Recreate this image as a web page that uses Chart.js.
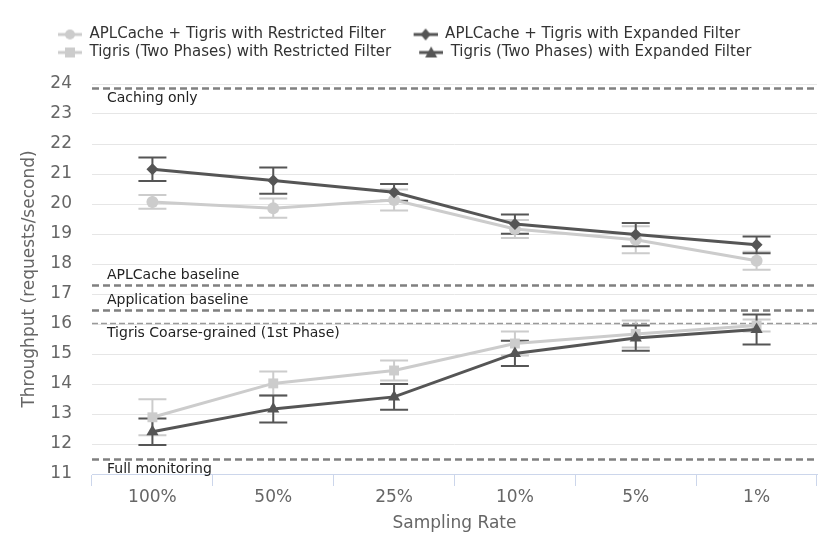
<!DOCTYPE html>
<html>
<head>
<meta charset="utf-8">
<script src="https://cdn.jsdelivr.net/npm/chart.js@4.4.0/dist/chart.umd.min.js"></script>
<style>
  html, body { margin: 0; padding: 0; background: #fff; }
  #wrap { width: 830px; height: 554px; }
</style>
</head>
<body>
<div id="wrap"><canvas id="myChart"></canvas></div>
<script>
const samplingRates = ["100%", "50%", "25%", "10%", "5%", "1%"];

const cacheRestricted = [20.07, 19.86, 20.13, 19.17, 18.81, 18.11];
const cacheRestrictedErr = [0.23, 0.32, 0.35, 0.3, 0.45, 0.3];
const cacheExpanded = [21.16, 20.78, 20.39, 19.33, 18.98, 18.64];
const cacheExpandedErr = [0.39, 0.44, 0.28, 0.32, 0.39, 0.28];
const twoPhaseRestricted = [12.89, 14.02, 14.45, 15.35, 15.67, 15.95];
const twoPhaseRestrictedErr = [0.6, 0.4, 0.33, 0.4, 0.45, 0.2];
const twoPhaseExpanded = [12.41, 13.17, 13.57, 15.02, 15.53, 15.82];
const twoPhaseExpandedErr = [0.44, 0.45, 0.43, 0.42, 0.42, 0.5];

// reference lines
const refNames = ["Caching only", "APLCache baseline", "Application baseline", "Tigris Coarse-grained (1st Phase)", "Full monitoring"];
const refValues = [23.87, 17.3, 16.47, 16.03, 11.5];

const light = "#cccccc";
const dark = "#555555";
Chart.defaults.font.family = "'DejaVu Sans', Verdana, sans-serif";

// little "line + marker" pictures for the legend
function legendIcon(color, style) {
  const c = document.createElement("canvas");
  c.width = 49; c.height = 14;
  const g = c.getContext("2d");
  g.strokeStyle = color; g.fillStyle = color; g.lineWidth = 3;
  g.beginPath(); g.moveTo(25, 7); g.lineTo(49, 7); g.stroke();
  const cx = 37, cy = 7;
  g.beginPath();
  if (style == "circle") g.arc(cx, cy, 5, 0, Math.PI * 2);
  if (style == "rectRot") { g.moveTo(cx, cy - 6); g.lineTo(cx + 5, cy); g.lineTo(cx, cy + 6); g.lineTo(cx - 5, cy); }
  if (style == "rect") g.rect(cx - 5, cy - 5, 10, 10);
  if (style == "triangle") { g.moveTo(cx, cy - 6); g.lineTo(cx + 6, cy + 5); g.lineTo(cx - 6, cy + 5); }
  g.closePath(); g.fill();
  return c;
}

const refLines = {
  id: "refLines",
  beforeDatasetsDraw(chart) {
    const ctx = chart.ctx, y = chart.scales.y, area = chart.chartArea;
    const above = [false, true, true, false, false];
    refValues.forEach((v, i) => {
      const py = Math.round(y.getPixelForValue(v)) + 0.5;
      ctx.save();
      const thin = i == 3;
      ctx.strokeStyle = thin ? "#9a9a9a" : "#808080";
      ctx.lineWidth = thin ? 1.5 : 2.5;
      ctx.setLineDash(thin ? [6, 3] : [7, 4]);
      ctx.beginPath(); ctx.moveTo(area.left, py); ctx.lineTo(area.right, py); ctx.stroke();
      ctx.setLineDash([]);
      ctx.fillStyle = "#222";
      ctx.font = "14px 'DejaVu Sans', Verdana, sans-serif";
      ctx.textBaseline = "middle";
      ctx.fillText(refNames[i], area.left + 15, py + (above[i] ? -10 : 10));
      ctx.restore();
    });
  }
};

const errorBars = {
  id: "errorBars",
  beforeDatasetsDraw(chart) {
    const ctx = chart.ctx, y = chart.scales.y;
    const idx = [0, 2, 1, 3];
    idx.forEach(i => {
      const ds = chart.data.datasets[i];
      const meta = chart.getDatasetMeta(i);
      meta.data.forEach((pt, j) => {
        const top = y.getPixelForValue(ds.data[j] + ds.errors[j]);
        const bot = y.getPixelForValue(ds.data[j] - ds.errors[j]);
        ctx.save();
        ctx.strokeStyle = ds.borderColor;
        ctx.lineWidth = 2;
        ctx.beginPath();
        ctx.moveTo(pt.x, top); ctx.lineTo(pt.x, bot);
        ctx.moveTo(pt.x - 14, top); ctx.lineTo(pt.x + 14, top);
        ctx.moveTo(pt.x - 14, bot); ctx.lineTo(pt.x + 14, bot);
        ctx.stroke();
        ctx.restore();
      });
    });
  }
};

const legendSpace = {
  id: "legendSpace",
  beforeInit(chart) {
    const fit = chart.legend.fit;
    chart.legend.fit = function () {
      fit.call(this);
      this.height = 60;
    };
  }
};

const icons = [
  legendIcon(light, "circle"),
  legendIcon(dark, "rectRot"),
  legendIcon(light, "rect"),
  legendIcon(dark, "triangle")
];

function series(label, data, errors, color, style, radius, order) {
  return {
    label: label,
    data: data,
    errors: errors,
    borderColor: color,
    backgroundColor: color,
    borderWidth: 3,
    pointStyle: style,
    pointRadius: radius,
    pointHoverRadius: radius,
    pointBorderWidth: 0,
    tension: 0,
    order: order
  };
}

let ctx = document.getElementById("myChart").getContext("2d");
let chart = new Chart(ctx, {
  type: "line",
  data: {
    labels: samplingRates,
    datasets: [
      series("APLCache + Tigris with Restricted Filter", cacheRestricted, cacheRestrictedErr, light, "circle", 6, 1),
      series("APLCache + Tigris with Expanded Filter", cacheExpanded, cacheExpandedErr, dark, "rectRot", 6, 0),
      series("Tigris (Two Phases) with Restricted Filter", twoPhaseRestricted, twoPhaseRestrictedErr, light, "rect", 7, 1),
      series("Tigris (Two Phases) with Expanded Filter", twoPhaseExpanded, twoPhaseExpandedErr, dark, "triangle", 7, 0)
    ]
  },
  options: {
    responsive: true,
    maintainAspectRatio: false,
    animation: false,
    layout: { padding: { top: 24, left: 30, right: 13, bottom: 0 } },
    plugins: {
      tooltip: { enabled: false },
      legend: {
        position: "top",
        align: "start",
        labels: {
          usePointStyle: true,
          pointStyleWidth: 49,
          boxHeight: 14,
          padding: 3,
          color: "#333",
          font: { size: 15 },
          generateLabels(chart) {
            const items = Chart.defaults.plugins.legend.labels.generateLabels(chart);
            items.sort((a, b) => a.datasetIndex - b.datasetIndex);
            items.forEach(it => { it.pointStyle = icons[it.datasetIndex]; });
            return items;
          }
        }
      }
    },
    scales: {
      x: {
        offset: true,
        afterFit(scale) { scale.height = 80; },
        grid: {
          offset: true,
          drawOnChartArea: false,
          tickLength: 12,
          color: "#ccd6eb"
        },
        border: { color: "#ccd6eb" },
        ticks: { color: "#666", font: { size: 17 }, padding: 1 },
        title: {
          display: true,
          text: "Sampling Rate",
          color: "#666",
          font: { size: 17 },
          padding: { top: 0, bottom: 20 }
        }
      },
      y: {
        min: 11,
        max: 24,
        afterFit(scale) { scale.width = 62; },
        grid: { color: "#e6e6e6", drawTicks: false },
        border: { display: false },
        ticks: { stepSize: 1, color: "#666", font: { size: 17 }, padding: 20 },
        title: {
          display: true,
          text: "Throughput (requests/second)",
          color: "#666",
          font: { size: 17 },
          padding: { top: -11, bottom: 0 }
        }
      }
    }
  },
  plugins: [refLines, errorBars, legendSpace]
});
</script>
</body>
</html>
